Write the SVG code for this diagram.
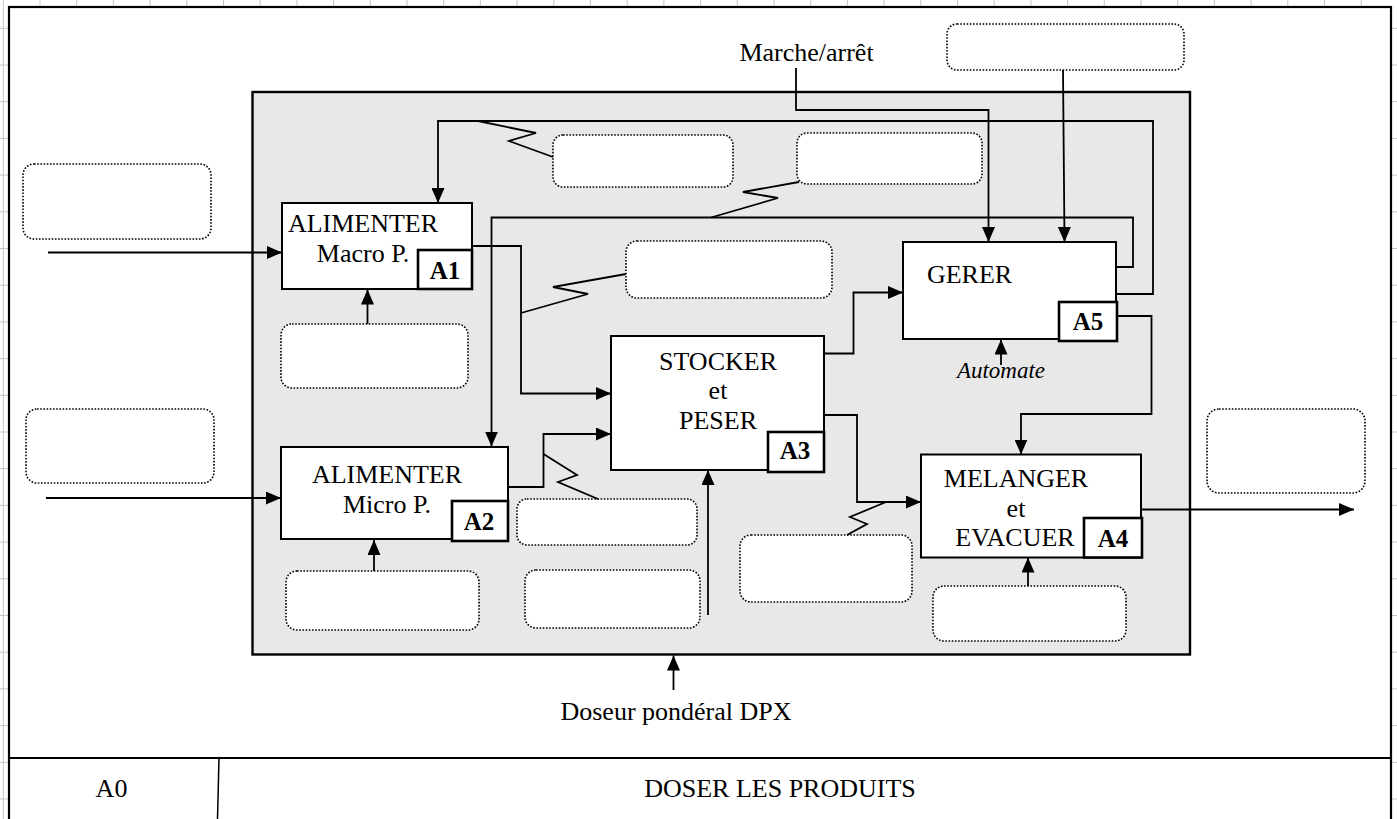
<svg xmlns="http://www.w3.org/2000/svg" width="1397" height="819" viewBox="0 0 1397 819">
<style>
.t{font-family:"Liberation Serif","Times New Roman",serif;font-size:26px;fill:#000;text-anchor:middle}
.b{font-family:"Liberation Serif","Times New Roman",serif;font-size:25px;font-weight:bold;fill:#000;text-anchor:middle}
.i{font-family:"Liberation Serif","Times New Roman",serif;font-size:23px;font-style:italic;fill:#000;text-anchor:middle}
.box{fill:#fff;stroke:#000;stroke-width:2}
.lab{fill:#fff;stroke:#000;stroke-width:2.6}
.dot{fill:#fff;stroke:#000;stroke-width:1.6;stroke-dasharray:1.6 1.6}
.c{fill:none;stroke:#000;stroke-width:1.8}
.z{fill:none;stroke:#000;stroke-width:1.8;stroke-linejoin:miter}
</style>
<defs>
<pattern id="grid" x="2.8" y="27.8" width="36.7" height="36.7" patternUnits="userSpaceOnUse">
<path d="M0.5 0V36.7M0 0.5H36.7" stroke="#c6c6c6" stroke-width="1" fill="none"/>
</pattern>
<marker id="ah" viewBox="0 0 15 13" refX="15" refY="6.5" markerWidth="15" markerHeight="13" markerUnits="userSpaceOnUse" orient="auto">
<path d="M0,0 L15,6.5 L0,13 z" fill="#000"/>
</marker>
</defs>
<rect width="1397" height="819" fill="#fff"/>
<rect width="1397" height="819" fill="url(#grid)"/>
<rect x="9" y="7" width="1382" height="830" fill="#fff" stroke="#000" stroke-width="2.2"/>
<line x1="9" y1="758" x2="1391" y2="758" stroke="#000" stroke-width="2"/>
<line x1="219" y1="758" x2="217.5" y2="819" stroke="#000" stroke-width="1.5"/>
<text class="t" x="111.5" y="797">A0</text>
<text class="t" x="780" y="797">DOSER LES PRODUITS</text>

<g id="context">
<rect x="252.5" y="92" width="937.5" height="562.5" fill="#e8e8e8" stroke="#000" stroke-width="2.4"/>
</g>

<g id="labels-outside">
<text class="t" x="806.5" y="61">Marche/arrêt</text>
<text class="t" x="676" y="720">Doseur pondéral DPX</text>
<text class="i" x="1001" y="378">Automate</text>
</g>

<g id="dotted-boxes">
<rect id="d-left1" class="dot" x="23" y="164" width="188" height="75" rx="11"/>
<rect id="d-left2" class="dot" x="26" y="409" width="188" height="74" rx="11"/>
<rect id="d-top1" class="dot" x="553" y="135" width="180" height="52" rx="10"/>
<rect id="d-top2" class="dot" x="797" y="133" width="185" height="51" rx="10"/>
<rect id="d-topright" class="dot" x="947" y="24" width="237" height="46" rx="10"/>
<rect id="d-mid" class="dot" x="626" y="241" width="206" height="57" rx="11"/>
<rect id="d-a1mech" class="dot" x="281" y="324" width="187" height="64" rx="11"/>
<rect id="d-a2out" class="dot" x="517" y="499" width="180" height="46" rx="10"/>
<rect id="d-a2mech" class="dot" x="286" y="571" width="193" height="59" rx="11"/>
<rect id="d-a3mech" class="dot" x="525" y="570" width="175" height="58" rx="11"/>
<rect id="d-a3out" class="dot" x="740" y="535" width="172" height="67" rx="11"/>
<rect id="d-a4mech" class="dot" x="933" y="586" width="193" height="55" rx="11"/>
<rect id="d-right" class="dot" x="1207" y="409" width="158" height="84" rx="12"/>
</g>

<g id="connectors">
<path class="c" d="M48,252.5 H282" marker-end="url(#ah)"/>
<path class="c" d="M46,498 H281" marker-end="url(#ah)"/>
<path class="c" d="M1116,294 H1153 V121 H438 V203" marker-end="url(#ah)"/>
<polyline class="z" points="478,121 536,133 509,141 553,157"/>
<path class="c" d="M1114,267 H1133 V217.5 H491.5 V446.5" marker-end="url(#ah)"/>
<polyline class="z" points="711,217.5 778,198 743,192 799,182"/>
<path class="c" d="M472,246 H521 V393.5 H611" marker-end="url(#ah)"/>
<polyline class="z" points="521,313 588,294 553,287 626,274"/>
<path class="c" d="M508,487 H543.5 V434 H611" marker-end="url(#ah)"/>
<polyline class="z" points="543.5,454 577,475 558,482 598,499"/>
<path class="c" d="M367.5,324 V289.5" marker-end="url(#ah)"/>
<path class="c" d="M374,571 V540" marker-end="url(#ah)"/>
<path class="c" d="M708,615 V470" marker-end="url(#ah)"/>
<path class="c" d="M824,353.5 H853.5 V292.5 H903" marker-end="url(#ah)"/>
<path class="c" d="M824,415 H857 V502 H921" marker-end="url(#ah)"/>
<polyline class="z" points="886,502 850,517 867,524 847,535"/>
<path class="c" d="M796,68 V110 H988.5 V242" marker-end="url(#ah)"/>
<path class="c" d="M1063,70 L1064.5,242" marker-end="url(#ah)"/>
<path class="c" d="M1001,365 V339.5" marker-end="url(#ah)"/>
<path class="c" d="M1117,316 H1151.5 V414 H1021 V454.5" marker-end="url(#ah)"/>
<path class="c" d="M1028,586 V557.5" marker-end="url(#ah)"/>
<path class="c" d="M1141,509.5 H1354" marker-end="url(#ah)"/>
<path class="c" d="M673.5,690 V655.5" marker-end="url(#ah)"/>
</g>

<g id="A1">
<rect class="box" x="282" y="203" width="190" height="86"/>
<rect class="lab" x="418" y="250" width="54" height="39"/>
<text class="t" x="363" y="232">ALIMENTER</text>
<text class="t" x="363" y="262">Macro P.</text>
<text class="b" x="445" y="279">A1</text>
</g>
<g id="A2">
<rect class="box" x="281" y="447" width="227" height="92"/>
<rect class="lab" x="452" y="501" width="56" height="40"/>
<text class="t" x="387" y="483">ALIMENTER</text>
<text class="t" x="387" y="513">Micro P.</text>
<text class="b" x="479" y="530">A2</text>
</g>
<g id="A3">
<rect class="box" x="611" y="336" width="213" height="134"/>
<rect class="lab" x="768" y="432" width="56" height="40"/>
<text class="t" x="718" y="370">STOCKER</text>
<text class="t" x="718" y="399">et</text>
<text class="t" x="718" y="429">PESER</text>
<text class="b" x="795" y="459">A3</text>
</g>
<g id="A5">
<rect class="box" x="903" y="242" width="213" height="97"/>
<rect class="lab" x="1059" y="302" width="58" height="39"/>
<text class="t" x="969.5" y="283">GERER</text>
<text class="b" x="1088" y="330">A5</text>
</g>
<g id="A4">
<rect class="box" x="921" y="454.5" width="220" height="103"/>
<rect class="lab" x="1084" y="518" width="58" height="39.5"/>
<text class="t" x="1016" y="487">MELANGER</text>
<text class="t" x="1016" y="517">et</text>
<text class="t" x="1015" y="546">EVACUER</text>
<text class="b" x="1113" y="547">A4</text>
</g>
</svg>
